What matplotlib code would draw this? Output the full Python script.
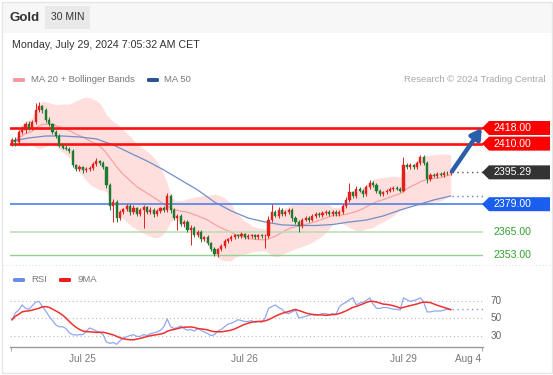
import matplotlib
matplotlib.use('Agg')
import matplotlib.pyplot as plt
import matplotlib.transforms as mtrans
from matplotlib.patches import Polygon, Rectangle, FancyBboxPatch
from matplotlib.lines import Line2D
import numpy as np
import pandas as pd

plt.rcParams['font.family'] = ['Liberation Sans', 'DejaVu Sans']

# ---------------- data ----------------
closes = [
    2412.0, 2411.0, 2416.0, 2417.0, 2420.0, 2418.0, 2421.0, 2427.0, 2429.0, 2427.0,
    2422.0, 2420.0, 2416.0, 2414.0, 2409.0, 2408.0, 2407.5, 2406.0, 2399.0, 2397.0,
    2398.0, 2396.5, 2397.0, 2397.5, 2399.5, 2401.0, 2400.0, 2398.0, 2389.0, 2378.0,
    2380.0, 2372.0, 2375.0, 2376.5, 2378.0, 2375.0, 2377.0, 2374.0, 2376.0, 2377.5,
    2375.0, 2376.0, 2374.0, 2375.5, 2377.0, 2376.0, 2383.0, 2376.0, 2372.0, 2373.0,
    2369.0, 2370.0, 2366.0, 2367.0, 2363.0, 2365.0, 2361.0, 2362.0, 2359.0, 2356.0,
    2353.5, 2356.0, 2357.5, 2360.0, 2361.0, 2362.0, 2363.0, 2362.5, 2363.5, 2362.0,
    2362.5, 2363.0, 2362.0, 2363.0, 2362.5, 2362.5, 2371.0, 2375.0, 2373.0, 2376.0,
    2374.0, 2375.0, 2376.0, 2372.0, 2370.0, 2368.0, 2371.0, 2372.0, 2371.0, 2373.0,
    2374.0, 2373.5, 2374.5, 2375.0, 2374.0, 2375.0, 2374.0, 2375.0, 2378.0, 2381.0,
    2385.0, 2383.0, 2387.0, 2386.0, 2384.0, 2388.0, 2390.0, 2389.0, 2386.0, 2384.0,
    2385.0, 2386.0, 2387.0, 2387.5, 2387.0, 2386.0, 2399.0, 2398.0, 2399.0, 2398.0,
    2400.0, 2403.0, 2400.0, 2392.0, 2394.0, 2393.5, 2394.5, 2394.0, 2395.0, 2394.8,
    2395.29]
first_open = 2410.0
upper_wick = [
    1.0, 1.5, 1.0, 2.0, 1.0, 1.5, 1.0, 4.0, 2.5, 1.0,
    1.0, 1.5, 0.8, 1.0, 1.0, 0.8, 1.2, 0.8, 1.0, 0.8,
    1.2, 0.8, 1.0, 0.8, 1.0, 1.5, 0.8, 1.0, 0.8, 1.0,
    1.5, 1.0, 1.0, 0.8, 1.2, 1.0, 1.5, 0.8, 1.0, 1.0,
    0.8, 1.5, 1.0, 1.0, 0.8, 1.0, 1.5, 1.0, 0.8, 1.0,
    1.2, 0.8, 1.0, 1.5, 0.8, 1.0, 1.0, 0.8, 1.0, 0.8,
    1.0, 0.8, 1.2, 1.0, 0.8, 1.0, 1.0, 0.8, 1.2, 0.8,
    1.0, 0.8, 1.0, 0.8, 1.0, 1.0, 2.0, 4.0, 1.0, 1.5,
    1.0, 0.8, 1.0, 1.0, 0.8, 1.0, 0.8, 1.0, 0.8, 1.0,
    0.8, 1.0, 0.8, 1.0, 0.8, 1.0, 0.8, 1.0, 1.0, 1.5,
    5.0, 1.0, 1.5, 1.0, 0.8, 1.0, 1.5, 1.0, 0.8, 1.0,
    0.8, 1.0, 0.8, 1.0, 0.8, 1.0, 4.0, 1.0, 1.0, 0.8,
    1.0, 1.0, 1.0, 1.0, 0.8, 1.0, 0.8, 1.0, 0.8, 1.0,
    0.8]
lower_wick = [
    1.0, 2.0, 1.0, 1.0, 1.5, 0.8, 1.0, 1.0, 1.0, 1.5,
    1.0, 0.8, 1.0, 1.0, 0.8, 1.0, 0.8, 1.0, 1.2, 1.0,
    0.8, 1.5, 1.0, 0.8, 1.0, 0.8, 1.0, 1.0, 1.5, 2.0,
    8.0, 2.0, 1.0, 0.8, 1.0, 1.5, 0.8, 1.0, 1.0, 9.0,
    1.0, 0.8, 1.5, 1.0, 0.8, 1.0, 1.0, 1.5, 1.0, 6.0,
    1.0, 1.5, 1.0, 8.0, 1.0, 0.8, 1.5, 1.0, 1.0, 1.0,
    1.0, 1.5, 0.8, 1.0, 0.8, 1.0, 0.8, 1.0, 0.8, 1.0,
    0.8, 1.0, 0.8, 1.0, 0.8, 6.0, 1.0, 1.0, 0.8, 1.0,
    1.0, 0.8, 1.0, 1.5, 1.0, 3.0, 1.0, 0.8, 1.0, 0.8,
    1.0, 0.8, 1.0, 0.8, 1.0, 0.8, 1.0, 1.0, 0.8, 1.0,
    1.0, 1.0, 0.8, 1.0, 1.5, 0.8, 1.0, 1.0, 1.5, 1.0,
    0.8, 1.0, 0.8, 1.0, 0.8, 1.0, 1.0, 1.0, 0.8, 1.0,
    1.0, 0.8, 1.0, 2.0, 1.0, 0.8, 1.0, 0.8, 1.0, 0.8,
    1.0]
# MA 50 every 5 candles
ma50_idx = list(range(0, 131, 5))
ma50_vals = [2411.3, 2412.9, 2413.9, 2413.9, 2413.4, 2412.4, 2409.3, 2405.2, 2401.1,
             2396.5, 2391.4, 2386.3, 2380.1, 2375.5, 2371.9, 2369.9, 2368.4, 2368.1,
             2368.1, 2368.6, 2369.9, 2370.9, 2373.0, 2376.0, 2378.6, 2381.2, 2383.2]
rsi = [
    48, 56, 59, 65, 61, 60, 64, 68, 69, 63,
    58, 52, 47, 42, 40, 40, 38, 33, 31, 30.5,
    31, 31, 35, 38.6, 37, 35, 34, 31, 22.6, 21,
    22, 20, 24, 27, 28.6, 30, 31, 29, 29, 31,
    30, 32, 33, 34, 36, 40, 49, 40, 38, 39,
    41, 38, 36, 37, 35, 38, 36, 34, 32, 30,
    31, 35, 37, 40, 43, 44, 46, 48, 47, 46,
    46, 47, 45, 46, 45, 50, 61, 63, 65, 62,
    60, 56, 55, 57, 59, 50, 51, 52, 53, 54,
    53, 54, 55, 55, 54, 55, 54, 63, 66, 68,
    71, 73, 65, 67, 68, 70, 73, 66, 61, 61,
    62, 62, 61, 60, 60, 59, 73, 71, 69, 70,
    71, 73, 68, 57, 57, 58, 58, 58, 59, 60,
    60]
tick_pos = [21, 69, 116, 135]
tick_labels = ['Jul 25', 'Jul 26', 'Jul 29', 'Aug 4']
res_levels = [2418.00, 2410.00]
last_price = 2395.29
sup_level = 2379.00
green_levels = [2365.00, 2353.00]
rsi_levels = [70, 50, 30]
target_price = 2418.00

# ---------------- figure ----------------
W, H = 553, 375
fig = plt.figure(figsize=(W / 100, H / 100), dpi=100)
fig.patch.set_facecolor('white')


def fx(px):
    return px / W


def fy(py):
    return 1 - py / H


XL = (-0.593, 139.56)
ax = fig.add_axes([fx(10), fy(262), fx(483) - fx(10), fy(92) - fy(262)])
ax.set_xlim(*XL)
ax.set_ylim(2349.42, 2436.42)
ax.axis('off')

n = len(closes)
x = np.arange(n)
c = np.array(closes)
o = np.array([first_open] + closes[:-1])
hi = np.maximum(o, c) + np.array(upper_wick)
lo = np.minimum(o, c) - np.array(lower_wick)
up = c >= o
RED, GREEN = '#e3201b', '#1d7a30'
cols = np.where(up, RED, GREEN)

s = pd.Series(closes)
ma20 = s.rolling(20, min_periods=1).mean()
sd20 = s.rolling(20, min_periods=2).std(ddof=0).fillna(0)
ax.fill_between(x, ma20 + 2 * sd20, ma20 - 2 * sd20, color='#ffdede', lw=0, zorder=1)
ax.plot(x, ma20, color='#f5a3a3', lw=0.9, zorder=2)
ax.plot(ma50_idx, ma50_vals, color='#6f8fc8', lw=0.9, zorder=2)
ax.plot([ma50_idx[-1] + 0.5, XL[1]], [ma50_vals[-1]] * 2, color='#5b82d6', lw=1,
        ls=(0, (1, 2.5)), zorder=2)

# levels
for lv in res_levels:
    ax.axhline(lv, color='#ff1010', lw=1.9, zorder=3)
ax.axhline(sup_level, color='#5a8ae8', lw=1.3, zorder=3)
ax.axhline(green_levels[0], color='#b8dcb2', lw=1.1, zorder=3)
ax.axhline(green_levels[1], color='#96d090', lw=1.0, zorder=3)
ax.plot([n - 0.5, XL[1]], [last_price] * 2, color='#555555', lw=1, ls=(0, (1, 2.5)), zorder=3)

# candles
ax.vlines(x, lo, hi, colors=cols, lw=0.7, zorder=4)
ax.bar(x, np.maximum(np.abs(c - o), 0.35), bottom=np.minimum(o, c), width=0.62,
       color=cols, edgecolor=cols, linewidth=0.3, zorder=5)

# arrow
ax.annotate('', xy=(139.2, target_price), xytext=(n - 0.6, last_price + 0.6),
            arrowprops=dict(arrowstyle='-|>,head_length=0.6,head_width=0.35',
                            color='#2b5ea9', lw=3.2, shrinkA=0, shrinkB=0),
            zorder=6, annotation_clip=False)

# price tags
btr = mtrans.blended_transform_factory(fig.transFigure, ax.transData)
hh = 7.0 / 1.954


def tag(v, col, txt):
    pts = [(fx(482), v), (fx(489), v + hh), (fx(550), v + hh), (fx(550), v - hh), (fx(489), v - hh)]
    fig.patches.append(Polygon(pts, closed=True, transform=btr, facecolor=col,
                               edgecolor='none', figure=fig))
    fig.text(fx(493), v, txt, transform=btr, color='white', fontsize=7.6, va='center', ha='left')


tag(res_levels[0], '#ff0000', f'{res_levels[0]:.2f}')
tag(res_levels[1], '#ff0000', f'{res_levels[1]:.2f}')
tag(last_price, '#333333', f'{last_price:.2f}')
tag(sup_level, '#1a5ef0', f'{sup_level:.2f}')
for lv in green_levels:
    fig.text(fx(493), lv, f'{lv:.2f}', transform=btr, color='#33a02c', fontsize=7.6,
             va='center', ha='left')

# ---------------- RSI pane ----------------
ax2 = fig.add_axes([fx(10), fy(347), fx(483) - fx(10), fy(290) - fy(347)])
ax2.set_xlim(*XL)
ax2.set_ylim(16.86, 82)
for sp in ['top', 'right', 'left']:
    ax2.spines[sp].set_visible(False)
ax2.spines['bottom'].set_color('#999999')
ax2.spines['bottom'].set_linewidth(1)
ax2.set_yticks([])
ax2.set_xticks(tick_pos)
ax2.set_xticklabels(tick_labels)
ax2.tick_params(axis='x', length=0, labelsize=7.2, labelcolor='#777777', pad=5)
ax2.set_xticks([XL[0] + 0.15, XL[1] - 0.15], minor=True)
ax2.tick_params(axis='x', which='minor', length=3, color='#999999', direction='out')
ax2.patch.set_alpha(0)
for lv in rsi_levels:
    ax2.axhline(lv, color='#bbbbbb', lw=0.8, ls=(0, (1, 2.5)), zorder=1)
rs = pd.Series(rsi, dtype=float)
ma9 = rs.rolling(9, min_periods=1).mean()
ax2.plot(np.arange(len(rsi)), rsi, color='#90a8f0', lw=0.9, zorder=2)
ax2.plot(np.arange(len(rsi)), ma9, color='#f03030', lw=1.1, zorder=3)
ax2.plot([len(rsi) - 0.5, XL[1]], [rsi[-1]] * 2, color='#7f9ae8', lw=1, ls=(0, (1, 2.5)))
btr2 = mtrans.blended_transform_factory(fig.transFigure, ax2.transData)
for lv in rsi_levels:
    fig.text(fx(491), lv, str(lv), transform=btr2, color='#666666', fontsize=7.2, va='center')

# ---------------- header / legends ----------------
fig.patches.append(Rectangle((fx(1.5), fy(33)), fx(550), 31.5 / H, transform=fig.transFigure,
                             facecolor='#f7f7f7', edgecolor='none', figure=fig))
fig.text(fx(10), fy(18), 'Gold', fontsize=9.5, weight='bold', color='#333333', va='center')
fig.patches.append(Rectangle((fx(45), fy(29)), fx(90) - fx(45), 23 / H, transform=fig.transFigure,
                             facecolor='#e9e9e9', edgecolor='none', figure=fig))
fig.text(fx(50.5), fy(17.5), '30 MIN', fontsize=7.5, color='#333333', va='center')
fig.text(fx(11.5), fy(45), 'Monday, July 29, 2024 7:05:32 AM CET', fontsize=7.7, color='#333333',
         va='center')


def leg_patch(px, py, col):
    fig.patches.append(FancyBboxPatch((fx(px), fy(py + 2)), 12 / W, 4 / H,
                                      boxstyle='round,pad=0,rounding_size=0.003',
                                      transform=fig.transFigure, facecolor=col,
                                      edgecolor='none', figure=fig))


leg_patch(13, 80, '#f59a9a')
fig.text(fx(31), fy(80), 'MA 20 + Bollinger Bands', fontsize=6.8, color='#777777', va='center')
leg_patch(147, 80, '#2c5597')
fig.text(fx(164), fy(80), 'MA 50', fontsize=6.8, color='#777777', va='center')
fig.text(fx(545), fy(80), 'Research \u00a9 2024 Trading Central', fontsize=6.8, color='#a8a8a8',
         va='center', ha='right')
leg_patch(13, 280, '#6a8ee6')
fig.text(fx(31), fy(280), 'RSI', fontsize=6.8, color='#777777', va='center')
leg_patch(59, 280, '#ee1c1c')
fig.text(fx(77), fy(280), '9MA', fontsize=6.8, color='#777777', va='center')

# separators / frame
fig.lines.append(Line2D([fx(2), fx(551)], [fy(265)] * 2, transform=fig.transFigure,
                        color='#e2e2e2', lw=0.8, ls=(0, (1, 2)), figure=fig))
fig.patches.append(Rectangle((fx(1.5), fy(372.5)), fx(550), 371 / H, transform=fig.transFigure,
                             facecolor='none', edgecolor='#e6e6e6', lw=1, figure=fig))

fig.savefig('out.png', dpi=100, facecolor='white')
